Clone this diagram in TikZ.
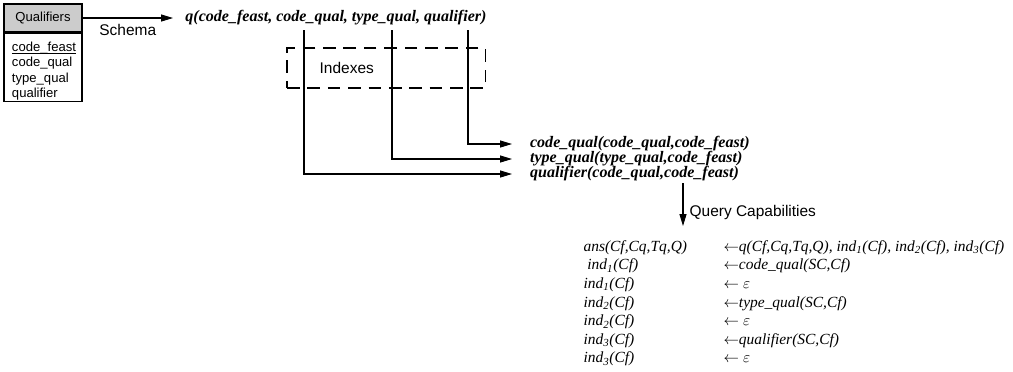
\documentclass[tikz,border=0pt]{standalone}
\usepackage{fontspec}
\setmainfont{Liberation Serif}
\setsansfont{Liberation Sans}
\usetikzlibrary{arrows.meta,matrix,positioning}

\begin{document}
\begin{tikzpicture}[x=0.025cm, y=-0.025cm, line width=0.75pt,
        >={Triangle[length=8.5pt,width=5pt]},
        sanslabel/.style={font=\sffamily\fontsize{11}{13}\selectfont},
        formula/.style={anchor=west, inner ysep=1pt, font=\bfseries\itshape\fontsize{11.4}{13}\selectfont}]
            \useasboundingbox (0,0) rectangle (1013,371);
            \begin{scope}[classhead/.style={draw, fill=gray!40, minimum width=1.95cm, minimum height=0.7cm, inner sep=0pt, font=\sffamily\fontsize{9.3}{11}\selectfont},
                classbody/.style={draw, minimum width=1.95cm, text width=1.55cm, text height=12pt, minimum height=1.7cm, align=left, inner xsep=0.2cm, inner ysep=1pt, font=\sffamily\fontsize{9.3}{10.9}\selectfont}]
                \node(qualhead) at (43,18) [classhead]{Qualifiers};
                \node(qualbody) [classbody, below=0pt of qualhead]{\underline{\raisebox{0pt}[\height][0pt]{code\_feast}}\\code\_qual\\type\_qual\\qualifier};
            \end{scope}
            %%%
            \node(qrel) at (173,18) [formula, inner xsep=8.5pt]{q(code\_feast, code\_qual, type\_qual, qualifier)};
            \node(codequal) at (512,144) [formula, inner xsep=12.5pt]{code\_qual(code\_qual,code\_feast)};
            \node(typequal) at (512,159) [formula, inner xsep=12.5pt]{type\_qual(type\_qual,code\_feast)};
            \node(qualifier) at (512,174) [formula, inner xsep=12.5pt]{qualifier(code\_qual,code\_feast)};
            %%%
            \node(indexes) at (386,68) [draw, dash pattern=on 9pt off 5.5pt, minimum width=4.95cm, minimum height=1cm]{};
            \node(idxlabel) [sanslabel, right=0.7cm of indexes.west, anchor=west]{Indexes};
            %%%
            \coordinate(v1) at (304,30);
            \coordinate(v2) at (392,30);
            \coordinate(v3) at (468,30);
            \coordinate(qtop) at (683,183);
            \coordinate(qbot) at (683,226);
            %
            \draw[->] (qualhead.east) -- node[sanslabel, below=1pt]{Schema} (qrel.west);
            \draw[->] (v3) |- (codequal.west);
            \draw[->] (v2) |- (typequal.west);
            \draw[->] (v1) |- (qualifier.west);
            \draw[->] (qtop) -- node[sanslabel, pos=0.68, right=1pt]{Query Capabilities} (qbot);
            %%%
            \matrix(rules) at (583,238) [matrix of nodes, anchor=north west, inner sep=0pt,
                nodes={anchor=base west, inner sep=0pt, text height=9pt, text depth=4.25pt, font=\itshape\fontsize{11}{13}\selectfont},
                column 1/.style={nodes={text width=3.5cm}}]{
                ans(Cf,Cq,Tq,Q) & $\leftarrow$q(Cf,Cq,Tq,Q), ind\textsubscript{1}(Cf), ind\textsubscript{2}(Cf), ind\textsubscript{3}(Cf) \\
                \hspace{0.25em}ind\textsubscript{1}(Cf) & $\leftarrow$code\_qual(SC,Cf) \\
                ind\textsubscript{1}(Cf) & $\leftarrow\varepsilon$ \\
                ind\textsubscript{2}(Cf) & $\leftarrow$type\_qual(SC,Cf) \\
                ind\textsubscript{2}(Cf) & $\leftarrow\varepsilon$ \\
                ind\textsubscript{3}(Cf) & $\leftarrow$qualifier(SC,Cf) \\
                ind\textsubscript{3}(Cf) & $\leftarrow\varepsilon$ \\
            };
        \end{tikzpicture}
\end{document}
